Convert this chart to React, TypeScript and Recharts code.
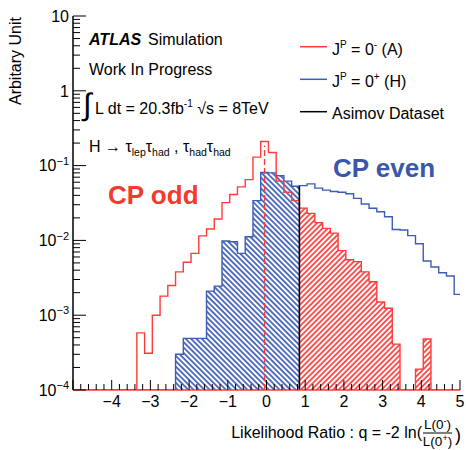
import React from 'react';
import { ComposedChart, Line, Area, XAxis, YAxis, ReferenceLine } from 'recharts';

// ---------- data ----------
const FLOOR = 1e-4;
const Q_MIN = -5;
const Q_MAX = 5;

// left edges of the 0.2-wide bins
const BIN_EDGES = [
  -3.35, -3.15, -2.95, -2.75, -2.55, -2.35, -2.15, -1.95, -1.75, -1.55,
  -1.35, -1.15, -0.95, -0.75, -0.55, -0.35, -0.15, 0.05, 0.25, 0.45,
  0.65, 0.85, 1.05, 1.25, 1.45, 1.65, 1.85, 2.05, 2.25, 2.45,
  2.65, 2.85, 3.05, 3.25, 3.45, 3.65, 3.85, 4.05, 4.25, 4.45,
  4.65, 4.85,
];

// J^P = 0^- (A), CP odd
const CP_ODD = [
  5.8e-4, 3.1e-4, 1.0e-3, 1.8e-3, 2.5e-3, 3.8e-3, 5.1e-3, 6.7e-3, 1.15e-2, 1.42e-2,
  1.93e-2, 3.2e-2, 4.1e-2, 5.2e-2, 6.5e-2, 0.13, 0.21, 0.15, 6.2e-2, 4.4e-2,
  3.4e-2, 2.7e-2, 2.3e-2, 1.73e-2, 1.45e-2, 1.25e-2, 7.3e-3, 5.5e-3, 5.2e-3, 3.8e-3,
  2.8e-3, 1.5e-3, 1.24e-3, 4.1e-4, 0, 0, 1.9e-4, 4.8e-4, 0, 0,
  0, 0,
];

// J^P = 0^+ (H), CP even
const CP_EVEN = [
  0, 0, 0, 0, 0, 3.0e-4, 4.9e-4, 4.9e-4, 4.9e-4, 2.1e-3,
  2.45e-3, 9.8e-3, 9.6e-3, 6.7e-3, 1.12e-2, 3.4e-2, 8.1e-2, 8.0e-2, 7.3e-2, 6.2e-2,
  5.3e-2, 5.4e-2, 5.7e-2, 5.0e-2, 4.7e-2, 4.5e-2, 4.4e-2, 4.2e-2, 3.65e-2, 3.07e-2,
  2.69e-2, 2.42e-2, 2.07e-2, 1.4e-2, 1.38e-2, 1.16e-2, 9.0e-3, 5.3e-3, 4.4e-3, 3.7e-3,
  3.35e-3, 1.9e-3,
];

const ASIMOV_Q = 0.85;
const ASIMOV_TOP = 5.3e-2;
const ODD_SPIKE_Q = -0.05;
const ODD_SPIKE_TOP = 0.185;

const X_LABELS = [-4, -3, -2, -1, 0, 1, 2, 3, 4, 5];
const Y_LABEL_EXPONENTS = [-4, -3, -2, -1, 0, 1];

const LEGEND_ITEMS = [
  { sym: 'J', sup: 'P', mid: ' = 0', sup2: '-', tail: ' (A)', color: '#ff3b3b' },
  { sym: 'J', sup: 'P', mid: ' = 0', sup2: '+', tail: ' (H)', color: '#3c5db5' },
  { sym: 'Asimov Dataset', sup: '', mid: '', sup2: '', tail: '', color: '#000000' },
];

// ---------- styling ----------
const RED = '#ff3b3b';
const BLUE = '#3c5db5';
const RED_TEXT = '#f33a2c';
const BLUE_TEXT = '#3b57a8';
const FONT = '"Liberation Sans", Arial, Helvetica, sans-serif';

const clamp = (v: number) => (v > 0 ? v : FLOOR);

const oddLine = [
  { q: Q_MIN, v: FLOOR },
  ...BIN_EDGES.map((q, i) => ({ q, v: clamp(CP_ODD[i]) })),
  { q: Q_MAX, v: clamp(CP_ODD[CP_ODD.length - 1]) },
];
const evenLine = [
  { q: Q_MIN, v: FLOOR },
  ...BIN_EDGES.map((q, i) => ({ q, v: clamp(CP_EVEN[i]) })),
  { q: Q_MAX, v: clamp(CP_EVEN[CP_EVEN.length - 1]) },
];

const evenIdx = BIN_EDGES.map((_, i) => i).filter((i) => BIN_EDGES[i] < ASIMOV_Q);
const evenHatch = [
  ...evenIdx.map((i) => ({ q: BIN_EDGES[i], v: clamp(CP_EVEN[i]) })),
  { q: ASIMOV_Q, v: clamp(CP_EVEN[evenIdx[evenIdx.length - 1]]) },
];
const oddIdx = BIN_EDGES.map((_, i) => i).filter((i) => BIN_EDGES[i] >= ASIMOV_Q);
const oddHatch = [
  ...oddIdx.map((i) => ({ q: BIN_EDGES[i], v: clamp(CP_ODD[i]) })),
  { q: Q_MAX, v: clamp(CP_ODD[oddIdx[oddIdx.length - 1]]) },
];

// tick positions
const X_TICKS: number[] = [];
for (let i = 0; i <= 50; i++) X_TICKS.push(Math.round((Q_MIN + i * 0.2) * 10) / 10);
const Y_TICKS: number[] = [];
for (let n = -4; n <= 0; n++) {
  for (let m = 1; m <= 9; m++) Y_TICKS.push(Number((m * Math.pow(10, n)).toPrecision(3)));
}
Y_TICKS.push(10);

const isInt = (v: number) => Math.abs(v - Math.round(v)) < 1e-6;
const isDecade = (v: number) => {
  const l = Math.log10(v);
  return Math.abs(l - Math.round(l)) < 1e-6;
};

const BottomTick = (props: any) => {
  const { x, y, payload } = props;
  const v = payload.value;
  const major = isInt(v);
  const r = Math.round(v);
  const show = major && X_LABELS.includes(r);
  return (
    <g>
      <line x1={x} x2={x} y1={y} y2={y - (major ? 10 : 6)} stroke="#000" strokeWidth={1} />
      {show && (
        <text x={x} y={y + 16.5} textAnchor="middle" fontSize={16} fontFamily={FONT} fill="#000">
          {r < 0 ? '\u2212' + Math.abs(r) : String(r)}
        </text>
      )}
    </g>
  );
};

const TopTick = (props: any) => {
  const { x, y, payload } = props;
  const major = isInt(payload.value);
  return <line x1={x} x2={x} y1={y} y2={y + (major ? 9 : 5)} stroke="#000" strokeWidth={1} />;
};

const LeftTick = (props: any) => {
  const { x, y, payload } = props;
  const v = payload.value;
  const major = isDecade(v);
  const e = Math.round(Math.log10(v));
  const show = major && Y_LABEL_EXPONENTS.includes(e);
  return (
    <g>
      <line x1={x} x2={x + (major ? 13 : 7)} y1={y} y2={y} stroke="#000" strokeWidth={1} />
      {show && (
        <text x={x - 4} y={y + 5.7} textAnchor="end" fontSize={16} fontFamily={FONT} fill="#000">
          {e === 0 ? '1' : e === 1 ? '10' : (
            <>
              <tspan>10</tspan>
              <tspan dy={-6.5} fontSize={11}>{'\u2212' + Math.abs(e)}</tspan>
            </>
          )}
        </text>
      )}
    </g>
  );
};

const RightTick = (props: any) => {
  const { x, y, payload } = props;
  const major = isDecade(payload.value);
  return <line x1={x} x2={x - (major ? 12 : 7)} y1={y} y2={y} stroke="#000" strokeWidth={1} />;
};

export default function App() {
  return (
    <div style={{ position: 'absolute', left: 0, top: 0, width: 466, height: 450, background: '#fff' }}>
      <svg width={0} height={0} style={{ position: 'absolute' }}>
        <defs>
          <pattern id="hatchBlue" patternUnits="userSpaceOnUse" width={3.8} height={3.8} patternTransform="rotate(-45)">
            <rect width={3.8} height={3.8} fill="#fff" />
            <line x1={1.9} y1={0} x2={1.9} y2={3.8} stroke={BLUE} strokeWidth={1.7} />
          </pattern>
          <pattern id="hatchRed" patternUnits="userSpaceOnUse" width={3.8} height={3.8} patternTransform="rotate(45)">
            <rect width={3.8} height={3.8} fill="#fff" />
            <line x1={1.9} y1={0} x2={1.9} y2={3.8} stroke={RED} strokeWidth={1.7} />
          </pattern>
        </defs>
      </svg>
      <ComposedChart width={466} height={450} margin={{ top: 16, right: 6, bottom: 30, left: 13 }}>
        <XAxis
          xAxisId="b"
          type="number"
          dataKey="q"
          domain={[Q_MIN, Q_MAX]}
          ticks={X_TICKS}
          interval={0}
          tickSize={0}
          tickMargin={0}
          tickLine={false}
          tick={BottomTick}
          axisLine={{ stroke: RED, strokeWidth: 1.6 }}
          height={30}
          allowDataOverflow
        />
        <XAxis
          xAxisId="t"
          orientation="top"
          type="number"
          dataKey="q"
          domain={[Q_MIN, Q_MAX]}
          ticks={X_TICKS}
          interval={0}
          tickSize={0}
          tickMargin={0}
          tickLine={false}
          tick={TopTick}
          axisLine={{ stroke: '#000', strokeWidth: 1.5 }}
          height={0}
          allowDataOverflow
        />
        <YAxis
          yAxisId="l"
          type="number"
          scale="log"
          domain={[FLOOR, 10]}
          ticks={Y_TICKS}
          interval={0}
          tickSize={0}
          tickMargin={0}
          tickLine={false}
          tick={LeftTick}
          axisLine={{ stroke: '#000', strokeWidth: 1.5 }}
          width={60}
          allowDataOverflow
        />
        <YAxis
          yAxisId="r"
          orientation="right"
          type="number"
          scale="log"
          domain={[FLOOR, 10]}
          ticks={Y_TICKS}
          interval={0}
          tickSize={0}
          tickMargin={0}
          tickLine={false}
          tick={RightTick}
          axisLine={{ stroke: '#000', strokeWidth: 1.5 }}
          width={0}
          allowDataOverflow
        />
        <Area
          xAxisId="b"
          yAxisId="l"
          data={evenHatch}
          dataKey="v"
          type="stepAfter"
          baseValue={FLOOR}
          stroke="none"
          fill="url(#hatchBlue)"
          fillOpacity={1}
          isAnimationActive={false}
          dot={false}
          activeDot={false}
        />
        <Area
          xAxisId="b"
          yAxisId="l"
          data={oddHatch}
          dataKey="v"
          type="stepAfter"
          baseValue={FLOOR}
          stroke="none"
          fill="url(#hatchRed)"
          fillOpacity={1}
          isAnimationActive={false}
          dot={false}
          activeDot={false}
        />
        <Line
          xAxisId="b"
          yAxisId="l"
          data={evenLine}
          dataKey="v"
          type="stepAfter"
          stroke={BLUE}
          strokeWidth={1.4}
          dot={false}
          activeDot={false}
          isAnimationActive={false}
        />
        <Line
          xAxisId="b"
          yAxisId="l"
          data={oddLine}
          dataKey="v"
          type="stepAfter"
          stroke={RED}
          strokeWidth={1.4}
          dot={false}
          activeDot={false}
          isAnimationActive={false}
        />
        <ReferenceLine
          xAxisId="b"
          yAxisId="l"
          segment={[{ x: ODD_SPIKE_Q, y: FLOOR }, { x: ODD_SPIKE_Q, y: ODD_SPIKE_TOP }]}
          stroke={RED}
          strokeWidth={1.4}
          strokeDasharray="6 3"
        />
        <ReferenceLine
          xAxisId="b"
          yAxisId="l"
          segment={[{ x: ASIMOV_Q, y: FLOOR }, { x: ASIMOV_Q, y: ASIMOV_TOP }]}
          stroke="#000"
          strokeWidth={1.6}
        />
      </ComposedChart>
      <svg
        width={466}
        height={450}
        style={{ position: 'absolute', left: 0, top: 0, pointerEvents: 'none' }}
        fontFamily={FONT}
      >
        {/* y axis title */}
        <text x={21} y={17} transform="rotate(-90 21 17)" textAnchor="end" fontSize={16} fill="#000">
          Arbitary Unit
        </text>
        {/* x axis title */}
        <text x={422} y={438} textAnchor="end" fontSize={16} fill="#000">
          Likelihood Ratio : q = -2 ln(
        </text>
        <text x={437.5} y={429} textAnchor="middle" fontSize={13.5} fill="#000">
          L(0<tspan dy={-5} fontSize={9}>-</tspan><tspan dy={5}>)</tspan>
        </text>
        <line x1={423} x2={452} y1={433} y2={433} stroke="#000" strokeWidth={1} />
        <text x={437.5} y={446} textAnchor="middle" fontSize={13.5} fill="#000">
          L(0<tspan dy={-5} fontSize={9}>+</tspan><tspan dy={5}>)</tspan>
        </text>
        <text x={455} y={441} fontSize={18} fill="#000">)</text>

        {/* annotations */}
        <text x={89} y={45} fontSize={16} fill="#000">
          <tspan fontWeight="bold" fontStyle="italic">ATLAS</tspan>
        </text>
        <text x={148} y={45} fontSize={16} fill="#000">Simulation</text>
        <text x={89} y={75} fontSize={16} fill="#000">Work In Progress</text>
        <text x={83} y={115} fontSize={31} fill="#000">∫</text>
        <text x={95} y={114} fontSize={16} fill="#000">
          L dt = 20.3fb<tspan dy={-7} fontSize={10}>-1</tspan>
          <tspan dy={7}> √s = 8TeV</tspan>
        </text>
        <text x={89} y={152} fontSize={16} fill="#000">
          H → τ<tspan dy={4} fontSize={10.5}>lep</tspan>
          <tspan dy={-4}>τ</tspan>
          <tspan dy={4} fontSize={10.5}>had</tspan>
          <tspan dy={-4}> , τ</tspan>
          <tspan dy={4} fontSize={10.5}>had</tspan>
          <tspan dy={-4}>τ</tspan>
          <tspan dy={4} fontSize={10.5}>had</tspan>
        </text>

        {/* legend */}
        {LEGEND_ITEMS.map((it, i) => {
          const ly = [46.7, 79.3, 111.7][i];
          const ty = [55, 86.5, 119][i];
          return (
            <g key={i}>
              <line x1={300} x2={327} y1={ly} y2={ly} stroke={it.color} strokeWidth={1.5} />
              <text x={332} y={ty} fontSize={16} fill="#000">
                {it.sym}
                {it.sup && <tspan dy={-7} fontSize={10}>{it.sup}</tspan>}
                {it.mid && <tspan dy={7}>{it.mid}</tspan>}
                {it.sup2 && <tspan dy={-7} fontSize={10}>{it.sup2}</tspan>}
                {it.tail && <tspan dy={7}>{it.tail}</tspan>}
              </text>
            </g>
          );
        })}

        {/* big labels */}
        <text x={108} y={203.5} fontSize={26} fontWeight="bold" fill={RED_TEXT}>CP odd</text>
        <text x={333} y={176.5} fontSize={26} fontWeight="bold" fill={BLUE_TEXT}>CP even</text>
      </svg>
    </div>
  );
}
